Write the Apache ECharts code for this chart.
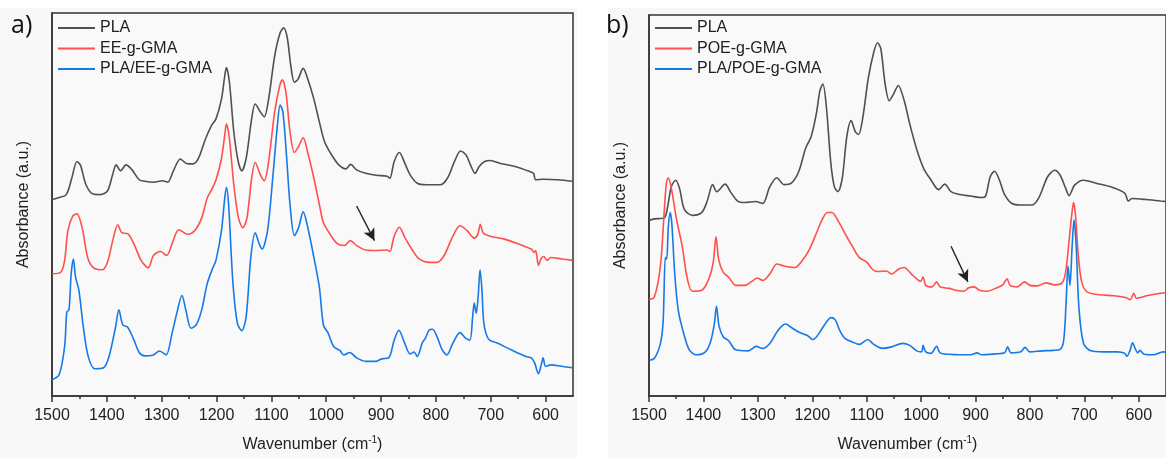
<!DOCTYPE html>
<html><head><meta charset="utf-8">
<script src="https://cdn.jsdelivr.net/npm/echarts@6/dist/echarts.min.js"></script>
<style>html,body{margin:0;padding:0;background:#fff}#c{width:1166px;height:458px}</style>
</head><body><div id="c"></div>
<script>
// Tick labels (wavenumber, cm-1)
const tickValues = [1500,1400,1300,1200,1100,1000,900,800,700,600];
const minorTickValues = [1450,1350,1250,1150,1050,950,850,750,650];

// Panel a) series [wavenumber, absorbance (a.u., offset)]
const plaA = [[1500,198.5],[1490,200],[1474,203.5],[1464,220],[1454.5,237],[1448,233],[1438,213.5],[1425,204],[1412,203.5],[1399,207],[1389.5,223.5],[1383,233.5],[1375,227.5],[1365,233.5],[1354,228.5],[1341,218.5],[1331,217],[1315,216],[1298.5,217.5],[1289,216],[1279,227],[1266,239.5],[1255,235],[1243,234.5],[1233,240],[1220,260],[1209,273.5],[1201,280],[1191,300],[1185,323.5],[1182,332],[1176.5,317],[1168.5,267],[1160.5,237],[1154,227.5],[1146,240],[1136,280],[1129.5,295],[1120,287],[1113,282],[1105,300],[1094,343.5],[1084,367],[1077.5,372],[1071,362],[1064.5,333.5],[1058,317],[1051.5,320],[1042,331],[1033.5,320],[1022.5,300],[1012.5,277],[1003,257],[990,243.5],[977,233.5],[964,229.5],[955.5,234],[944.5,228.5],[928,225],[909,223],[889,222],[884,220],[876,237],[866.5,246],[856.5,235],[847,223.5],[834,215],[818,213.5],[792,213.5],[779,220],[766,237],[755,247.5],[745,243.5],[737,233.5],[728.5,225],[721,232],[711,237],[701,238],[682,235],[655.5,232],[629.5,227],[622,225],[618,218.5],[603.5,219],[578,218.5],[551,217]];
const eeA = [[1500,123.5],[1484,125],[1477,137],[1471,167],[1462,182],[1454.5,184],[1445,170],[1435,140],[1425,130],[1409,127.5],[1399,135],[1388,160],[1380,173],[1373,165],[1362,164],[1350.5,153.5],[1337.5,137],[1324.5,129.5],[1315,142],[1302,146],[1291,142],[1279,157],[1269,168],[1253,163.5],[1240,167],[1227,180],[1217,200],[1207.5,210],[1200,220],[1191,240],[1185,263.5],[1182,275],[1176.5,260],[1168.5,213.5],[1160,180],[1152,170],[1144.5,180],[1136,220],[1129.5,236],[1120,223.5],[1113,217.5],[1105,237],[1094,287],[1085,313],[1080,319.5],[1073.5,307],[1066,267],[1058,246],[1050.5,252],[1042,261],[1033.5,245.5],[1022.5,220],[1012.5,193.5],[1005,175],[993,163.5],[980,154],[967,152],[956,157],[944.5,152],[928,147.5],[909,147],[889,147.5],[884,146],[876,161.5],[866.5,170.5],[856.5,160],[843.5,148],[830.5,138.5],[811,135],[798,135],[785,142],[769,161.5],[756,172],[743,167],[730,159.5],[723.5,163.5],[719,173.5],[714,165],[701,161.5],[675,158.5],[649,153.5],[626,148.5],[621,145],[618,147],[613,132],[608.5,138.5],[603.5,141],[597,137],[590.5,140],[571,138.5],[551,137]];
const blendA = [[1500,16.5],[1487,21.5],[1477,50],[1473,85],[1469,87],[1465,123.5],[1461,138.5],[1457,120],[1451,107],[1443,70],[1434,40],[1422,27.5],[1406,28.5],[1396,40],[1384,70],[1378,87],[1371,72],[1362,69.5],[1350.5,56.5],[1341,44],[1331,40.5],[1315,41.5],[1304,45.5],[1292,41.5],[1281,63.5],[1272.5,83.5],[1263,101.5],[1256,87],[1246.5,68.5],[1237,72],[1227,87],[1217,113.5],[1207.5,128.5],[1201,137],[1191,167],[1185,200],[1182,211],[1178,193.5],[1170,113.5],[1162,73.5],[1154,66],[1146,80],[1137.5,140],[1129.5,165],[1122,153.5],[1117,148.5],[1107,167],[1097,223.5],[1089,273.5],[1084,294],[1079,287],[1072.5,243.5],[1066,193.5],[1058,162],[1050.5,170],[1042,186],[1033.5,170],[1022.5,140],[1012.5,110],[1005,71.5],[996.5,63.5],[986.5,50],[975,46],[968,41.5],[957,44],[944.5,38.5],[928,35],[909,35],[899,37.5],[886,38.5],[876,56.5],[867.5,66.5],[858,55],[847,42.5],[840,44.5],[834,40],[825,53.5],[819,58.5],[812.5,66.5],[806,67.5],[798,60],[788.5,46.5],[780,41.5],[769,53.5],[756,64],[746,58.5],[738,56.5],[733,80],[730,94],[726.5,83.5],[723,100],[719.5,127.5],[716,107],[712.5,73.5],[704,57.5],[688,53.5],[662,46.5],[636,40],[626,38.5],[620,33.5],[613,22.5],[608.5,30],[604.5,38.5],[600,30],[590,31.5],[571,30],[551,28.5]];

// Panel b) series
const plaB = [[1500,177],[1490,178.5],[1472,179.5],[1466,190],[1459,211],[1451,217.5],[1444,209.5],[1435,188],[1420,182],[1403,185],[1393,196.5],[1383,213],[1375.5,206],[1360,213.5],[1350.5,206],[1337,196.5],[1324,195],[1304,196],[1291,194],[1278,211],[1265,220],[1252,213],[1238.5,214.5],[1225,226],[1212,250],[1202,261.5],[1192.5,284.5],[1186,307.5],[1180.5,314.5],[1174,291],[1166,235.5],[1159.5,211],[1153,206],[1145,219],[1136.5,261.5],[1128.5,277.5],[1121,266.5],[1115,263.5],[1107,281],[1097,320.5],[1087,346.5],[1080,356],[1074,350],[1066,314],[1058.5,297.5],[1051,304],[1042,313],[1031,297.5],[1021,274.5],[1008,248.5],[995,229],[981.5,217.5],[968,208],[956.5,213.5],[945,206],[929,203],[909,201.5],[889,200],[881.5,201.5],[873,221],[865,226.5],[856,217.5],[846.5,203],[833,194],[817,192.5],[797,192.5],[784,199.5],[767.5,221],[754.5,227.5],[744.5,222.5],[734.5,209.5],[728,202],[718,212.5],[701.5,217.5],[678.5,214.5],[652,211],[626,204.5],[619,196.5],[612.5,199],[586,198],[560,196.5],[550,196]];
const poeB = [[1500,97],[1490,100],[1479,131],[1472,186.5],[1468,214.5],[1464.5,220],[1459,209.5],[1449,177],[1439,151],[1429.5,118],[1420,105.5],[1403,106.5],[1390,118],[1382,134.5],[1377,160.5],[1372,137.5],[1363.5,124.5],[1354,120],[1340.5,111.5],[1324,111.5],[1311,115.5],[1301,119],[1291,116.5],[1278,123],[1265,133],[1252,131],[1232,129.5],[1219,136],[1205.5,147.5],[1192.5,164],[1182.5,177],[1172.5,185],[1164,185],[1153,177],[1140,164],[1126.5,151],[1113.5,139.5],[1100,135],[1090,128],[1080.5,125.5],[1064,126],[1054,123],[1041,128],[1031,129.5],[1018,123],[1008,118],[1001,115.5],[996.5,120],[991.5,111.5],[980,110],[971.5,115],[965,110],[948.5,108.5],[935.5,106.5],[922,105.5],[912.5,109],[902.5,110],[892.5,106.5],[879.5,105.5],[863,108.5],[850,112],[842,118],[836.5,111.5],[823.5,110],[810,115],[800,111.5],[787,111],[770.5,114],[754.5,112],[741,114],[734.5,124.5],[728,157],[723,183.5],[720,195],[716.5,183.5],[711.5,144],[705,115],[695,105],[672,102],[645.5,101],[622.5,99],[616,97],[609,103.5],[604.5,98.5],[586,101],[560,103.5],[550,104]];
const blendB = [[1500,36],[1490,38],[1479,53],[1474,75.5],[1470,139.5],[1467.5,138],[1464.5,170.5],[1461,185],[1458,173.5],[1452.5,121.5],[1446,85.5],[1436,62.5],[1426,46.5],[1413,41.5],[1396.5,44.5],[1387,54.5],[1380,72.5],[1376,90.5],[1371.5,71],[1363.5,59.5],[1354,56],[1340.5,46.5],[1317.5,45.5],[1303,50],[1291,48],[1278,53],[1265,64.5],[1255,71],[1248.5,72.5],[1238.5,69],[1225,64.5],[1209,61],[1199,57],[1192.5,59.5],[1182.5,67.5],[1172.5,75.5],[1166,79],[1158,77],[1149.5,66],[1140,58],[1126.5,54.5],[1113.5,52],[1098,57],[1087,52],[1070.5,48],[1054,49.5],[1034,53],[1021,51],[1008,45.5],[999,44.5],[996.5,51],[991.5,44.5],[981.5,43],[971.5,50],[965,43.5],[948.5,42],[929,41.5],[909,41.5],[897,43.5],[889,41.5],[863,42.5],[846.5,43.5],[841,49.5],[835,43.5],[817,44.5],[809,49],[800.5,44.5],[777.5,45.5],[757.5,46],[744.5,47],[738,56],[733.5,95],[730,131],[726.5,111.5],[722.5,151],[719,177.5],[715,151],[710,89],[701.5,53],[688,45.5],[665,44.5],[639,44.5],[626,43],[622,40],[616,46],[611.5,53.5],[606,47],[602,43.5],[598,46],[590,42],[573,41.5],[555,44.5],[550,44]];

// Arrows (start, end) in data coordinates
const arrowA = [[944.5,192],[912,157]];
const arrowB = [[945,151],[914,115]];

const FONT = '"Liberation Sans", Arial, sans-serif';
const C_PLA = '#505050', C_RED = '#ff4f4f', C_BLUE = '#1679e6';

const chart = echarts.init(document.getElementById('c'), null, {renderer:'canvas'});

function xMain(gridIndex){
  return {
    gridIndex, type:'value', inverse:true, min:550, max:1500, position:'bottom',
    name:'{a|Wavenumber (cm}{s|-1}{a|)}', nameLocation:'middle', nameGap:39,
    nameTextStyle:{rich:{a:{fontFamily:FONT,fontSize:16,color:'#222',lineHeight:20},s:{fontFamily:FONT,fontSize:10,color:'#222',lineHeight:10,verticalAlign:'top'}}},
    axisLine:{show:true,lineStyle:{color:'#333',width:1.5}},
    axisTick:{show:true,inside:false,length:6,lineStyle:{color:'#333',width:1.5},customValues:tickValues},
    axisLabel:{show:true,margin:12,fontFamily:FONT,fontSize:16,color:'#222',customValues:tickValues,
      formatter:function(v){return String(v);}},
    splitLine:{show:false}
  };
}
function xMinor(gridIndex){
  return {
    gridIndex, type:'value', inverse:true, min:550, max:1500, position:'bottom',
    axisLine:{show:false},
    axisTick:{show:true,inside:false,length:3,lineStyle:{color:'#333',width:1.5},customValues:minorTickValues},
    axisLabel:{show:false}, splitLine:{show:false}
  };
}
function yAx(gridIndex,max){
  return {
    gridIndex, type:'value', min:0, max:max,
    name:'Absorbance (a.u.)', nameLocation:'middle', nameGap:20, nameRotate:90,
    nameTextStyle:{fontFamily:FONT,fontSize:16,color:'#222'},
    axisLine:{show:true,lineStyle:{color:'#333',width:1.5}},
    axisTick:{show:false}, axisLabel:{show:false}, splitLine:{show:false}
  };
}
function line(name,data,color,xi,yi,arrow){
  const s = {name,type:'line',data,xAxisIndex:xi,yAxisIndex:yi,symbol:'none',smooth:0.3,
    lineStyle:{color,width:1.6},itemStyle:{color},silent:true,animation:false};
  if(arrow){
    s.markLine = {silent:true,symbol:['none','arrow'],symbolSize:[9,12],label:{show:false},
      lineStyle:{color:'#222',width:1.4,type:'solid'},
      data:[[{coord:arrow[0]},{coord:arrow[1]}]]};
  }
  return s;
}
function legendAt(left,names){
  return {orient:'vertical',left:left,top:15,icon:'rect',itemWidth:37,itemHeight:2,itemGap:4.5,
    textStyle:{fontFamily:FONT,fontSize:16,color:'#222',lineHeight:16},
    data:names,selectedMode:false};
}

chart.setOption({
  animation:false,
  backgroundColor:'#ffffff',
  textStyle:{fontFamily:FONT},
  graphic:[
    {type:'rect',z:-10,shape:{x:0,y:8,width:577,height:450},style:{fill:'#f8f8f8'},silent:true},
    {type:'rect',z:-10,shape:{x:608,y:8,width:558,height:450},style:{fill:'#f8f8f8'},silent:true},
    {type:'text',left:11,top:13,style:{text:'a)',font:'25px "Open Sans", sans-serif',fill:'#111'}},
    {type:'text',left:606,top:13,style:{text:'b)',font:'25px "Open Sans", sans-serif',fill:'#111'}}
  ],
  grid:[
    {left:52,top:13,width:521,height:387,show:true,borderColor:'#333',borderWidth:1.5,backgroundColor:'#f9f9f9'},
    {left:649,top:15,width:521,height:384,show:true,borderColor:'#333',borderWidth:1.5,backgroundColor:'#f9f9f9'}
  ],
  legend:[
    legendAt(53,['PLA','EE-g-GMA','PLA/EE-g-GMA']),
    legendAt(650,['PLA','POE-g-GMA','PLA/POE-g-GMA'])
  ],
  xAxis:[xMain(0),xMinor(0),xMain(1),xMinor(1)],
  yAxis:[yAx(0,387),yAx(1,384)],
  series:[
    line('PLA',plaA,C_PLA,0,0),
    line('EE-g-GMA',eeA,C_RED,0,0,arrowA),
    line('PLA/EE-g-GMA',blendA,C_BLUE,0,0),
    line('PLA',plaB,C_PLA,2,1),
    line('POE-g-GMA',poeB,C_RED,2,1,arrowB),
    line('PLA/POE-g-GMA',blendB,C_BLUE,2,1)
  ]
});
</script>
</body></html>
